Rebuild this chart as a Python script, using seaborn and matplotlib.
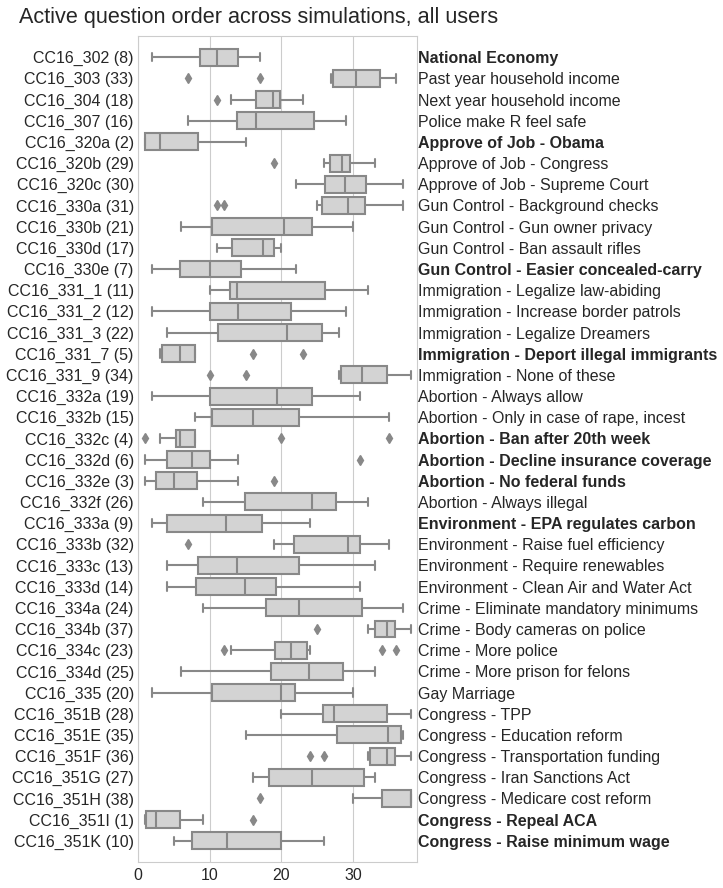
import matplotlib
matplotlib.use("Agg")
import matplotlib.pyplot as plt
import seaborn as sns
import pandas as pd

codes = ["CC16_302", "CC16_303", "CC16_304", "CC16_307", "CC16_320a", "CC16_320b",
         "CC16_320c", "CC16_330a", "CC16_330b", "CC16_330d", "CC16_330e", "CC16_331_1",
         "CC16_331_2", "CC16_331_3", "CC16_331_7", "CC16_331_9", "CC16_332a", "CC16_332b",
         "CC16_332c", "CC16_332d", "CC16_332e", "CC16_332f", "CC16_333a", "CC16_333b",
         "CC16_333c", "CC16_333d", "CC16_334a", "CC16_334b", "CC16_334c", "CC16_334d",
         "CC16_335", "CC16_351B", "CC16_351E", "CC16_351F", "CC16_351G", "CC16_351H",
         "CC16_351I", "CC16_351K"]
ranks = [8, 33, 18, 16, 2, 29, 30, 31, 21, 17, 7, 11, 12, 22, 5, 34, 19, 15, 4, 6, 3, 26,
         9, 32, 13, 14, 24, 37, 23, 25, 20, 28, 35, 36, 27, 38, 1, 10]
names = ["National Economy", "Past year household income", "Next year household income",
         "Police make R feel safe", "Approve of Job - Obama", "Approve of Job - Congress",
         "Approve of Job - Supreme Court", "Gun Control - Background checks",
         "Gun Control - Gun owner privacy", "Gun Control - Ban assault rifles",
         "Gun Control - Easier concealed-carry", "Immigration - Legalize law-abiding",
         "Immigration - Increase border patrols", "Immigration - Legalize Dreamers",
         "Immigration - Deport illegal immigrants", "Immigration - None of these",
         "Abortion - Always allow", "Abortion - Only in case of rape, incest",
         "Abortion - Ban after 20th week", "Abortion - Decline insurance coverage",
         "Abortion - No federal funds", "Abortion - Always illegal",
         "Environment - EPA regulates carbon", "Environment - Raise fuel efficiency",
         "Environment - Require renewables", "Environment - Clean Air and Water Act",
         "Crime - Eliminate mandatory minimums", "Crime - Body cameras on police",
         "Crime - More police", "Crime - More prison for felons", "Gay Marriage",
         "Congress - TPP", "Congress - Education reform", "Congress - Transportation funding",
         "Congress - Iran Sanctions Act", "Congress - Medicare cost reform",
         "Congress - Repeal ACA", "Congress - Raise minimum wage"]

# box statistics
whisker_low = [2, 26.9, 13, 7, 1, 26, 22, 25, 6, 11, 2, 10, 2, 4, 3, 28, 2, 8, 3, 1, 1, 9,
               2, 19, 4, 4, 9, 32, 13, 6, 2, 20, 15, 32, 16, 30, 1, 5]
q1 = [8.7, 27.2, 16.4, 13.8, 1, 26.8, 26.1, 25.6, 10.35, 13.1, 5.9, 12.85, 10, 11.2, 3.4,
      28.3, 10.1, 10.35, 5.3, 4.1, 2.5, 14.85, 4.1, 21.8, 8.4, 8.1, 17.9, 33, 19.1, 18.6,
      10.35, 25.85, 27.8, 32.3, 18.2, 34.05, 1.15, 7.5]
median = [11, 30.4, 18.8, 16.4, 3, 28.4, 28.9, 29.3, 20.4, 17.4, 10, 13.8, 13.9, 20.8, 5.9,
          31.2, 19.4, 16, 5.9, 7.5, 5, 24.3, 12.3, 29.3, 13.8, 14.85, 22.4, 34.75, 21.4,
          23.9, 20, 27.3, 34.8, 34.75, 24.3, 38, 2.5, 12.35]
q3 = [13.9, 33.7, 19.8, 24.6, 8.4, 29.6, 31.8, 31.6, 24.3, 18.9, 14.4, 26.1, 21.4, 25.6, 8,
      34.7, 24.2, 22.4, 7.9, 10.1, 8.2, 27.65, 17.35, 30.9, 22.4, 19.2, 31.3, 35.9, 23.6,
      28.6, 21.9, 34.7, 36.65, 35.9, 31.55, 38, 5.9, 20]
whisker_high = [17, 36, 23, 29, 15, 33, 37, 37, 30, 20, 22, 32, 29, 28, 8, 38, 31, 35, 7.9,
                14, 14, 32, 24, 35, 33, 31, 37, 38, 24, 33, 30, 38, 37, 38, 33, 38, 9, 26]
outliers = [[], [7, 17], [11], [], [], [19], [], [11, 12], [], [], [], [], [], [],
            [16, 23], [10, 15], [], [], [1, 20, 35], [31], [19], [], [], [7], [], [], [],
            [25], [12, 34, 36], [], [], [], [], [24, 26], [], [17], [16], []]


def sample(wl, a, m, b, wh, outs):
    """17 values whose quartiles (numpy linear) are a, m, b and whiskers wl, wh."""
    lo = sorted(o for o in outs if o < a)
    hi = sorted(o for o in outs if o > b)
    below = lo + [wl]
    below = below + [a] * (4 - len(below))
    above = [wh] + hi
    above = [b] * (4 - len(above)) + above
    return below + [a] * 4 + [m] + [b] * 4 + above


labels = [f"{c} ({r})" for c, r in zip(codes, ranks)]
rows = []
for i, lab in enumerate(labels):
    for v in sample(whisker_low[i], q1[i], median[i], q3[i], whisker_high[i], outliers[i]):
        rows.append({"question": lab, "order": v})
df = pd.DataFrame(rows)

sns.set_style("whitegrid")
plt.rcParams["font.family"] = ["Liberation Sans", "DejaVu Sans"]
plt.rcParams["text.color"] = "#262626"

fig = plt.figure(figsize=(7.23, 8.88), dpi=100)
ax = fig.add_axes([138 / 723, 1 - 862 / 888, (417 - 138) / 723, (862 - 36) / 888])

line_gray = "#888888"
sns.boxplot(data=df, x="order", y="question", order=labels, color="lightgrey",
            linecolor=line_gray, linewidth=1.5, width=0.8, ax=ax,
            flierprops=dict(marker="d", markerfacecolor=line_gray,
                            markeredgecolor=line_gray, markersize=5))

ax.set_xlim(0, 38.9)
ax.set_ylim(len(labels), -1)
ax.set_xlabel("")
ax.set_ylabel("")
ax.set_xticks([0, 10, 20, 30])
ax.tick_params(axis="x", labelsize=11.5, colors="#262626", length=0, pad=4)
ax.tick_params(axis="y", labelsize=11.5, colors="#262626", length=0, pad=3)
ax.grid(axis="y", visible=False)
for s in ax.spines.values():
    s.set_color("#cccccc")

ax2 = ax.twinx()
ax2.set_ylim(ax.get_ylim())
ax2.set_yticks(range(len(names)))
ax2.set_yticklabels(names)
ax2.tick_params(axis="y", labelsize=11.5, colors="#262626", length=0, pad=1)
ax2.grid(False)
for lab, r in zip(ax2.get_yticklabels(), ranks):
    if r <= 10:
        lab.set_fontweight("bold")
for s in ax2.spines.values():
    s.set_visible(False)

fig.text(259 / 723, 1 - 18 / 888, "Active question order across simulations, all users",
         ha="center", va="center", fontsize=15.6, color="#262626")

fig.savefig("out.png", dpi=100)
